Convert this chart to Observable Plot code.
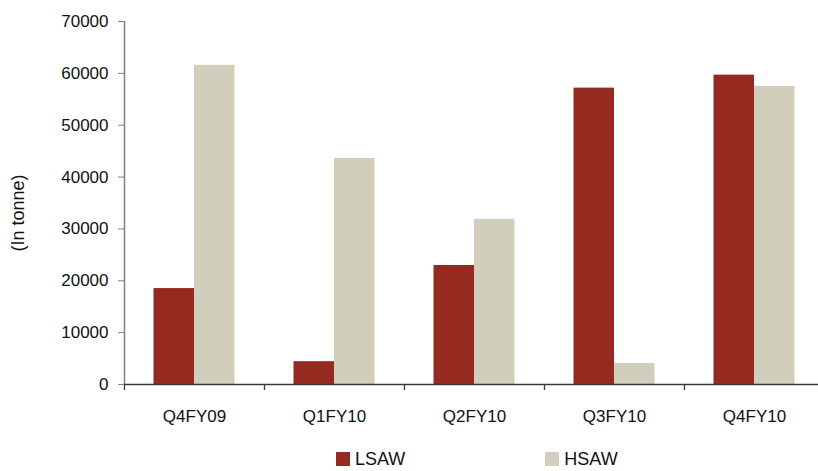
<!DOCTYPE html>
<html>
<head>
<meta charset="utf-8">
<script src="https://cdn.jsdelivr.net/npm/d3@7"></script>
<script src="https://cdn.jsdelivr.net/npm/@observablehq/plot@0.6"></script>
<style>
  body { margin: 0; background: #fff; font-family: "Liberation Sans", Arial, sans-serif; }
  #chart { position: relative; width: 818px; height: 471px; overflow: hidden; }
  #chart svg { position: absolute; left: 0; top: 0; }
  .legend { position: absolute; top: 450px; left: 336px; display: flex; align-items: center;
            font-size: 18px; line-height: 18px; color: #111; }
  .legend .item { display: flex; align-items: center; }
  .legend .item + .item { margin-left: 140px; }
  .legend .sw { width: 14px; height: 14px; margin-right: 5px; }
</style>
</head>
<body>
<div id="chart"></div>
<script>
// Quarterly volumes, in tonnes
const quarters = ["Q4FY09", "Q1FY10", "Q2FY10", "Q3FY10", "Q4FY10"];
const lsaw = [18500, 4400, 22950, 57150, 59650];
const hsaw = [61550, 43600, 31850, 4050, 57500];
const seriesNames = ["LSAW", "HSAW"];
const seriesColors = ["#962a20", "#d1cfbb"];
const yTicks = [0, 10000, 20000, 30000, 40000, 50000, 60000, 70000];
const yTitle = "(In tonne)";

const rows = quarters.flatMap((q, i) => [
  {quarter: q, series: "LSAW", value: lsaw[i]},
  {quarter: q, series: "HSAW", value: hsaw[i]}
]);

const axisGray = "#808080";
const axisDark = "#3a3a3a";

const chart = Plot.plot({
  width: 818,
  height: 440,
  marginTop: 21,
  marginBottom: 56,
  marginLeft: 124,
  marginRight: -6,
  style: {fontFamily: "'Liberation Sans', Arial, sans-serif", fontSize: "17px", color: "#111", background: "#fff"},
  x: {domain: quarters, padding: 0},
  y: {domain: [0, 70000]},
  color: {domain: seriesNames, range: seriesColors},
  marks: [
    // side-by-side bars within each quarter's band
    Plot.barY(rows.filter(d => d.series === "LSAW"), {x: "quarter", y: "value", fill: "series", insetLeft: 29.5, insetRight: 70}),
    Plot.barY(rows.filter(d => d.series === "HSAW"), {x: "quarter", y: "value", fill: "series", insetLeft: 70, insetRight: 29.5}),
    // vertical axis line
    Plot.ruleX([quarters[0]], {x: d => d, dx: -70, stroke: axisGray, strokeWidth: 1.5}),
    // baseline
    Plot.ruleY([0], {stroke: axisDark, strokeWidth: 1.3}),
    // category separators below the baseline
    Plot.ruleX(quarters, {x: d => d, dx: -70, y1: 0, y2: 0, insetBottom: -6, stroke: axisDark, strokeWidth: 1.3}),
    Plot.axisY(yTicks, {tickSize: 6, tickPadding: 10, tickFormat: d => String(d), stroke: axisGray, label: null, fontSize: 17}),
    Plot.axisX({tickSize: 0, tickPadding: 25, label: null, fontSize: 17}),
    Plot.text([yTitle], {text: d => d, frameAnchor: "left", textAnchor: "middle", rotate: -90, dx: -106.5, dy: 10, fontSize: 18, fill: "#111"})
  ]
});

const container = document.getElementById("chart");
container.appendChild(chart);

const legend = document.createElement("div");
legend.className = "legend";
seriesNames.forEach((name, i) => {
  const item = document.createElement("div");
  item.className = "item";
  const sw = document.createElement("span");
  sw.className = "sw";
  sw.style.background = seriesColors[i];
  const label = document.createElement("span");
  label.textContent = name;
  item.appendChild(sw);
  item.appendChild(label);
  legend.appendChild(item);
});
container.appendChild(legend);
</script>
</body>
</html>
